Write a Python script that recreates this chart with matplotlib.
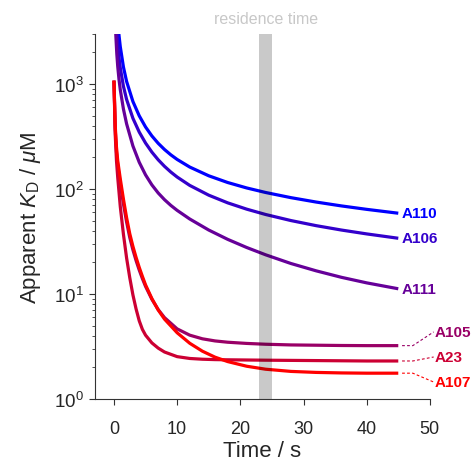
import numpy as np
import matplotlib
matplotlib.use("Agg")
import matplotlib.pyplot as plt

plt.rcParams['font.family'] = ['Liberation Sans', 'DejaVu Sans']
plt.rcParams['mathtext.fontset'] = 'custom'
plt.rcParams['mathtext.rm'] = 'Liberation Sans'
plt.rcParams['mathtext.it'] = 'Liberation Sans:italic'
plt.rcParams['mathtext.bf'] = 'Liberation Sans:bold'

# time grids (s)
t_fast = [0, 0.2, 0.4, 0.6, 1, 1.5, 2, 2.5, 3, 3.5, 4, 4.5, 5, 6, 7, 8, 10, 12, 14, 16, 18, 21, 24, 28, 32,
          36, 40, 45]
t_slow = [0.15, 0.3, 0.45, 0.6, 0.8, 1, 1.5, 2, 3, 4, 5, 6, 7, 8, 9, 10, 12, 15, 18, 21, 24, 28, 32, 36,
          40, 45]

# apparent KD (uM)
kd_A110 = [18250, 8530, 5448, 3970, 2894, 2264, 1449, 1056, 680, 497, 389, 319.6, 271.9, 237.3, 211.2,
           190.9, 161.5, 133.4, 115.1, 102.2, 92.5, 82.6, 75.0, 68.9, 63.9, 58.7]
kd_A106 = [9496, 4748, 3165, 2373, 1780, 1424, 949.6, 711.8, 470.7, 348.0, 273.5, 224.2, 189.5, 164.1,
           144.8, 129.8, 108.0, 87.2, 73.7, 64.2, 57.1, 50.0, 44.7, 40.6, 37.3, 33.9]
kd_A111 = [5690, 2882, 1937, 1461, 1102, 881.7, 576, 417.3, 256.5, 179.5, 136.1, 109.3, 91.5, 79.0, 69.7,
           62.5, 51.7, 40.6, 33.1, 27.7, 23.6, 19.5, 16.6, 14.4, 12.75, 11.2]
kd_A105 = [1075, 370, 225, 168, 112, 72, 48.5, 34.5, 26.3, 20.8, 16.9, 14.0, 11.8, 8.9, 7.1, 5.95, 4.65,
           4.05, 3.74, 3.57, 3.47, 3.38, 3.32, 3.27, 3.25, 3.23, 3.22, 3.22]
kd_A23 = [1075, 330, 185, 128, 68, 37, 22, 14.3, 9.8, 7.2, 5.55, 4.6, 4.05, 3.42, 3.05, 2.8, 2.53, 2.43,
          2.39, 2.37, 2.36, 2.35, 2.34, 2.33, 2.32, 2.31, 2.30, 2.30]
kd_A107 = [1075, 400, 250, 185, 125, 80, 53.2, 37.5, 28.4, 22.3, 17.9, 14.7, 12.2, 9.04, 7.04, 5.76, 4.27,
           3.39, 2.85, 2.5, 2.27, 2.05, 1.92, 1.83, 1.79, 1.77, 1.76, 1.76]

names = ['A110', 'A106', 'A111', 'A105', 'A23', 'A107']
colors = ['#0000ff', '#3300cc', '#660099', '#990066', '#cc0033', '#ff0000']
# label heights for the three crowded ones (uM)
label_y = {'A105': 4.35, 'A23': 2.51, 'A107': 1.45}

residence = (23, 25)

fig = plt.figure(figsize=(4.75, 4.64), dpi=100)
ax = fig.add_axes([0.2, 0.138, 0.705, 0.787])

ax.axvspan(residence[0], residence[1], color='k', alpha=0.21, lw=0, zorder=3)

series = [(t_slow, kd_A110), (t_slow, kd_A106), (t_slow, kd_A111),
          (t_fast, kd_A105), (t_fast, kd_A23), (t_fast, kd_A107)]
for name, col, (t, kd) in zip(names, colors, series):
    ax.plot(t, kd, color=col, lw=2.3, zorder=2, solid_capstyle='butt', solid_joinstyle='round')
    if name in label_y:
        ly = label_y[name]
        ax.plot([45.6, 47.3, 50.6], [kd[-1], kd[-1], ly], color=col, lw=0.8, ls=(0, (2.5, 2)),
                clip_on=False)
        ax.text(50.8, ly, name, color=col, fontsize=11, fontweight='bold', va='center', ha='left',
                clip_on=False)
    else:
        ax.text(45.6, kd[-1], name, color=col, fontsize=11, fontweight='bold', va='center', ha='left')

ax.text(np.mean(residence), 4200, 'residence time', color='#c8c8c8', fontsize=11.5, ha='center',
        va='center', clip_on=False)

ax.set_yscale('log')
ax.set_ylim(1, 3000)
ax.set_xlim(-3, 50)
ax.set_xticks([0, 10, 20, 30, 40, 50])
ax.set_yticks([1, 10, 100, 1000])

for s in ['top', 'right']:
    ax.spines[s].set_visible(False)
for s in ['left', 'bottom']:
    ax.spines[s].set_color('#333333')
    ax.spines[s].set_linewidth(0.8)
ax.tick_params(which='both', direction='out', colors='#333333', labelcolor='#262626', labelsize=13)
ax.tick_params(which='major', length=4)
ax.tick_params(which='minor', length=2)
ax.tick_params(axis='x', pad=11)
ax.tick_params(axis='y', pad=4, labelsize=13.5)

ax.set_xlabel('Time / s', fontsize=16, color='#262626', labelpad=2)
ax.set_ylabel('Apparent $K_\\mathrm{D}$ / $\\mu$M', fontsize=16, color='#262626', labelpad=8)

fig.savefig('out.png', dpi=100)
